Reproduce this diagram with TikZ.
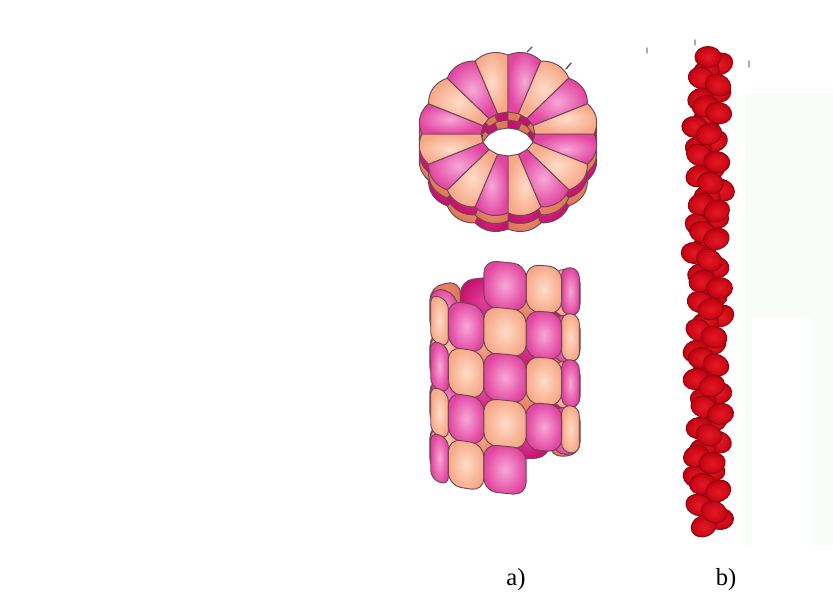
\documentclass[tikz,border=0pt]{standalone}
\usepackage{fontspec}
\setmainfont{Liberation Serif}
% segment colours
\definecolor{segedge}{HTML}{6E4656}
\definecolor{pinkL}{HTML}{F7A8D8}
\definecolor{pinkD}{HTML}{E2449F}
\definecolor{peachL}{HTML}{FFDCC8}
\definecolor{peachD}{HTML}{F6A888}
\definecolor{pinkBL}{HTML}{E0409A}
\definecolor{pinkBD}{HTML}{C8106E}
\definecolor{peachBL}{HTML}{F4A084}
\definecolor{peachBD}{HTML}{E07858}
% bead colours
\definecolor{beadL}{HTML}{E41A26}
\definecolor{beadD}{HTML}{C4000E}
\definecolor{beadEdge}{HTML}{8A0A14}
\definecolor{panel}{HTML}{F9FDF9}
\definecolor{tick}{HTML}{505860}
\begin{document}
\begin{tikzpicture}[x=0.03cm,y=-0.03cm,
  edge/.style={draw=segedge, line width=0.8pt},
  bead/.style={draw=beadEdge, line width=0.9pt, inner color=beadL, outer color=beadD},
  label/.style={font=\fontsize{21}{24}\selectfont, inner sep=0pt, anchor=base},
  tickmark/.style={draw=tick, line width=1.2pt, line cap=round}]
\useasboundingbox (0,0) rectangle (833,592);
\fill[white] (0,0) rectangle (833,592);
% faint backing panel right of the chain
\fill[panel] (745,93) rectangle (833,545);
\fill[white] (752,317) rectangle (812,545);

% ---------- ring of segments (top view) ----------
\def\rcx{508}\def\rcy{134}
\def\rox{86}\def\roy{79}
\def\rix{27}\def\riy{22}
\foreach \lay/\sh in {2/16,1/8,0/0} {
  \foreach \k in {0,...,15} {
    \pgfmathsetmacro\a{22.5*\k}
    \pgfmathsetmacro\b{\a+22.5}
    \pgfmathtruncatemacro\pc{mod(\k+\lay,2)}
    \ifnum\lay=0
      \ifnum\pc=0 \def\cin{pinkL}\def\cout{pinkD}\else\def\cin{peachL}\def\cout{peachD}\fi
    \else
      \ifnum\pc=0 \def\cin{pinkBL}\def\cout{pinkBD}\else\def\cin{peachBL}\def\cout{peachBD}\fi
    \fi
    \path[edge, inner color=\cin, outer color=\cout]
      ({\rcx+\rix*cos(\a)},{\rcy+\sh+\riy*sin(\a)})
      -- ({\rcx+\rox*cos(\a)},{\rcy+\sh+\roy*sin(\a)})
      .. controls ({\rcx+1.07*\rox*cos(\a+7.5)},{\rcy+\sh+1.07*\roy*sin(\a+7.5)})
         and ({\rcx+1.07*\rox*cos(\b-7.5)},{\rcy+\sh+1.07*\roy*sin(\b-7.5)})
      .. ({\rcx+\rox*cos(\b)},{\rcy+\sh+\roy*sin(\b)})
      -- ({\rcx+\rix*cos(\b)},{\rcy+\sh+\riy*sin(\b)}) -- cycle;
  }
}

% ---------- helix of segments (side view), 11 segments per turn ----------
\def\hcx{505}\def\hR{75}\def\hRi{52}
\def\hy{281}\def\hp{46}\def\hh{47}\def\he{5}
\def\hs{32.7272727}
\foreach \pass in {0,...,4} {
  \foreach \k in {0,...,44} {
    \pgfmathsetmacro\tm{\hs*\k}
    \pgfmathsetmacro\ta{\tm-\hs/2}
    \pgfmathsetmacro\tb{\tm+\hs/2}
    \pgfmathsetmacro\cc{cos(\tm)}
    \pgfmathtruncatemacro\grp{\cc<-0.15 ? 0 : (\cc<0.35 ? 1 : (\cc<0.65 ? 2 : (\cc<0.9 ? 3 : 4)))}
    \ifnum\grp=\pass
      \pgfmathsetmacro\RR{\grp==0 ? 1.1*\hR : \hR}
      \pgfmathsetmacro\RI{\grp==1 ? \hRi : \RR}
      \pgfmathsetmacro\xL{\hcx+min(\RR*sin(\ta),\RR*sin(\tm),\RR*sin(\tb),\RI*sin(\ta),\RI*sin(\tb))}
      \pgfmathsetmacro\xR{\hcx+max(\RR*sin(\ta),\RR*sin(\tm),\RR*sin(\tb),\RI*sin(\ta),\RI*sin(\tb))}
      \pgfmathsetmacro\yA{\hy+(\ta/360)*\hp+\he*cos(\ta)}
      \pgfmathsetmacro\yB{\hy+(\tb/360)*\hp+\he*cos(\tb)}
      \ifnum\grp=0 \let\yL\yB \let\yR\yA \else \let\yL\yA \let\yR\yB \fi
      \pgfmathsetmacro\rc{min(11,0.48*(\xR-\xL)*0.85)}
      \pgfmathtruncatemacro\pc{mod(\k,2)}
      \ifnum\grp=0
        \ifnum\pc=0 \def\cin{pinkBL}\def\cout{pinkBD}\else\def\cin{peachBL}\def\cout{peachBD}\fi
      \else
        \ifnum\pc=0 \def\cin{pinkL}\def\cout{pinkD}\else\def\cin{peachL}\def\cout{peachD}\fi
      \fi
      \path[edge, inner color=\cin, outer color=\cout, rounded corners=\rc pt]
        (\xL,{\yL-\hh/2}) -- (\xR,{\yR-\hh/2}) -- (\xR,{\yR+\hh/2}) -- (\xL,{\yL+\hh/2}) -- cycle;
    \fi
  }
}

% ---------- chain of red beads ----------
\foreach \pass in {0,1} {
  \foreach \i in {0,...,67} {
    \pgfmathsetmacro\ph{\i*100}
    \pgfmathtruncatemacro\front{cos(\ph)>0 ? 1 : 0}
    \ifnum\front=\pass
      \pgfmathsetmacro\bx{708+11*sin(\ph)+3*sin(\i*23)}
      \pgfmathsetmacro\by{57+\i*7.0}
      \pgfmathsetmacro\rot{25*sin(\i*71)}
      \path[bead, rotate around={\rot:(\bx,\by)}] (\bx,\by) ellipse [x radius=13, y radius=10.5];
    \fi
  }
}

% small marks along the top
\draw[tickmark] (527,52) -- (532,47);
\draw[tickmark] (566,69) -- (571,63);
\draw[tickmark, draw=tick!50] (647,48) -- (647,53);
\draw[tickmark, draw=tick!50] (695,40) -- (695,45);
\draw[tickmark, draw=tick!50] (749,61) -- (749,67);

% panel labels
\node[label] (lbla) at (516,585) {a)};
\node[label] (lblb) at (726,585) {b)};
\end{tikzpicture}
\end{document}
